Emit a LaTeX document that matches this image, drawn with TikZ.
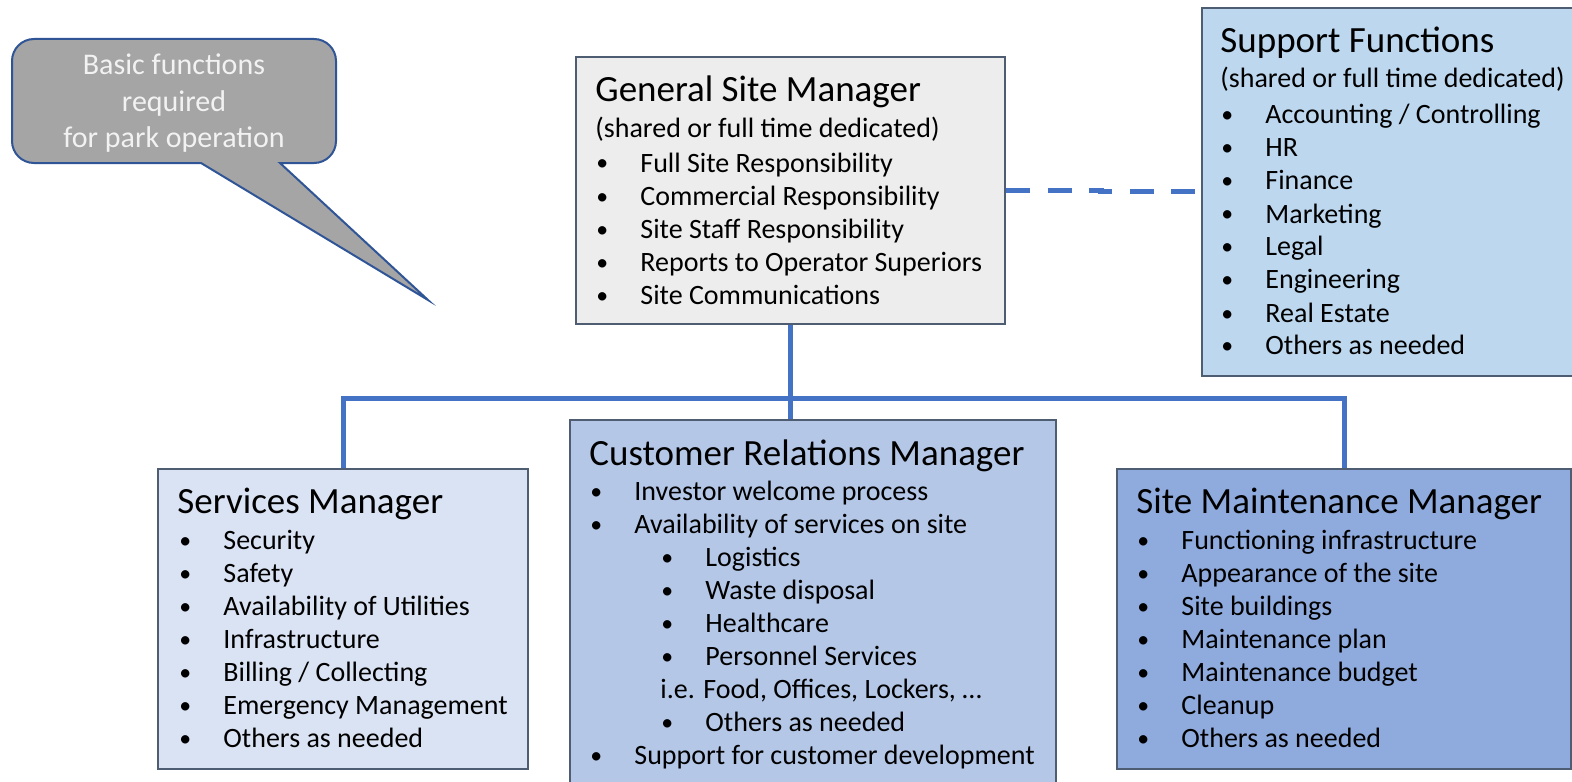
\documentclass[tikz,border=0pt]{standalone}
\usepackage{fontspec}
\usepackage{graphicx}
\setmainfont{Carlito}
\definecolor{linkblue}{HTML}{4472C4}
\definecolor{boxline}{HTML}{4F5D73}
\definecolor{noteline}{HTML}{2F5597}
\definecolor{notefill}{HTML}{A5A5A5}
\definecolor{gsmfill}{HTML}{EDEDED}
\definecolor{suppfill}{HTML}{BDD7EE}
\definecolor{svcfill}{HTML}{DAE3F3}
\definecolor{crmfill}{HTML}{B4C7E7}
\definecolor{smmfill}{HTML}{8FAADC}
\newcommand\itm[1]{\makebox[22.5pt][l]{\hspace{0.5pt}\raisebox{0.5pt}{\scalebox{0.85}{\textbullet}}}#1}
\newcommand\subitm{\hspace*{35.5pt}}
\tikzset{
        box/.style={draw=boxline, line width=1pt, anchor=north west, inner sep=0pt},
        head/.style={anchor=base west, inner sep=0pt, font=\fontsize{18.5}{22}\selectfont},
        list/.style={anchor=base west, inner sep=0pt, font=\fontsize{14}{16.5}\selectfont},
        link/.style={draw=linkblue, line width=2.5pt},
        dashlink/.style={draw=linkblue, line width=2.75pt, dash pattern=on 12pt off 8.75pt},
        callout/.style={draw=noteline, fill=notefill, line width=1pt},
        notetext/.style={anchor=base, inner sep=0pt, text=white!95!black, font=\fontsize{15}{18.25}\selectfont}
}
\begin{document}
\begin{tikzpicture}[x=0.5pt, y=-0.5pt]
        \useasboundingbox (0,0) rectangle (1572,781);
        \draw[callout] (12,101) [rounded corners=11pt] -- (12,39) -- (336,39) -- (336,163)
            [sharp corners] -- (280,163) -- (428,300) -- (201,163) [rounded corners=11pt] -- (12,163) -- cycle;
        \node[notetext] (note) at (174,75) {\begin{tabular}[t]{@{}c@{}}Basic functions\\required\\for park operation\end{tabular}};
        \node[box, fill=gsmfill, minimum width=214.5pt, minimum height=133.5pt] (gsm) at (575,56) {};
        \node[box, fill=suppfill, minimum width=194.5pt, minimum height=184pt] (supp) at (1201,7) {};
        \node[box, fill=svcfill, minimum width=185pt, minimum height=150pt] (svc) at (157,468) {};
        \node[box, fill=crmfill, minimum width=243pt, minimum height=190.5pt] (crm) at (569,419) {};
        \node[box, fill=smmfill, minimum width=227pt, minimum height=150pt] (smm) at (1116,468) {};
        \coordinate (bus) at (789.5,398);
        \coordinate (jog) at (1101,191.5);
        \draw[dashlink] (gsm.east) -| (jog) -- (jog -| supp.west);
        \draw[link] (gsm.south) -- (gsm.south |- crm.north);
        \draw[link] (svc.north) |- (bus) -| (smm.north);
        \node[head] (gsm-head) at (595,102) {General Site Manager};
        \node[list] (gsm-list) at (595,137) {\begin{tabular}[t]{@{}l@{}}
            (shared or full time dedicated)\\[1pt]
            \itm{Full Site Responsibility}\\
            \itm{Commercial Responsibility}\\
            \itm{Site Staff Responsibility}\\
            \itm{Reports to Operator Superiors}\\
            \itm{Site Communications}
            \end{tabular}};
        \node[head] (supp-head) at (1220,53) {Support Functions};
        \node[list] (supp-list) at (1220,88) {\begin{tabular}[t]{@{}l@{}}
            (shared or full time dedicated)\\[1.5pt]
            \itm{Accounting / Controlling}\\
            \itm{HR}\\
            \itm{Finance}\\
            \itm{Marketing}\\
            \itm{Legal}\\
            \itm{Engineering}\\
            \itm{Real Estate}\\
            \itm{Others as needed}
            \end{tabular}};
        \node[head] (svc-head) at (177,513) {Services Manager};
        \node[list] (svc-list) at (178,549) {\begin{tabular}[t]{@{}l@{}}
            \itm{Security}\\
            \itm{Safety}\\
            \itm{Availability of Utilities}\\
            \itm{Infrastructure}\\
            \itm{Billing / Collecting}\\
            \itm{Emergency Management}\\
            \itm{Others as needed}
            \end{tabular}};
        \node[head] (crm-head) at (589,465) {Customer Relations Manager};
        \node[list] (crm-list) at (589,500) {\begin{tabular}[t]{@{}l@{}}
            \itm{Investor welcome process}\\
            \itm{Availability of services on site}\\
            \subitm\itm{Logistics}\\
            \subitm\itm{Waste disposal}\\
            \subitm\itm{Healthcare}\\
            \subitm\itm{Personnel Services}\\
            \subitm i.e. Food, Offices, Lockers, …\\
            \subitm\itm{Others as needed}\\
            \itm{Support for customer development}
            \end{tabular}};
        \node[head] (smm-head) at (1136,513) {Site Maintenance Manager};
        \node[list] (smm-list) at (1136,549) {\begin{tabular}[t]{@{}l@{}}
            \itm{Functioning infrastructure}\\
            \itm{Appearance of the site}\\
            \itm{Site buildings}\\
            \itm{Maintenance plan}\\
            \itm{Maintenance budget}\\
            \itm{Cleanup}\\
            \itm{Others as needed}
            \end{tabular}};
\end{tikzpicture}
\end{document}
